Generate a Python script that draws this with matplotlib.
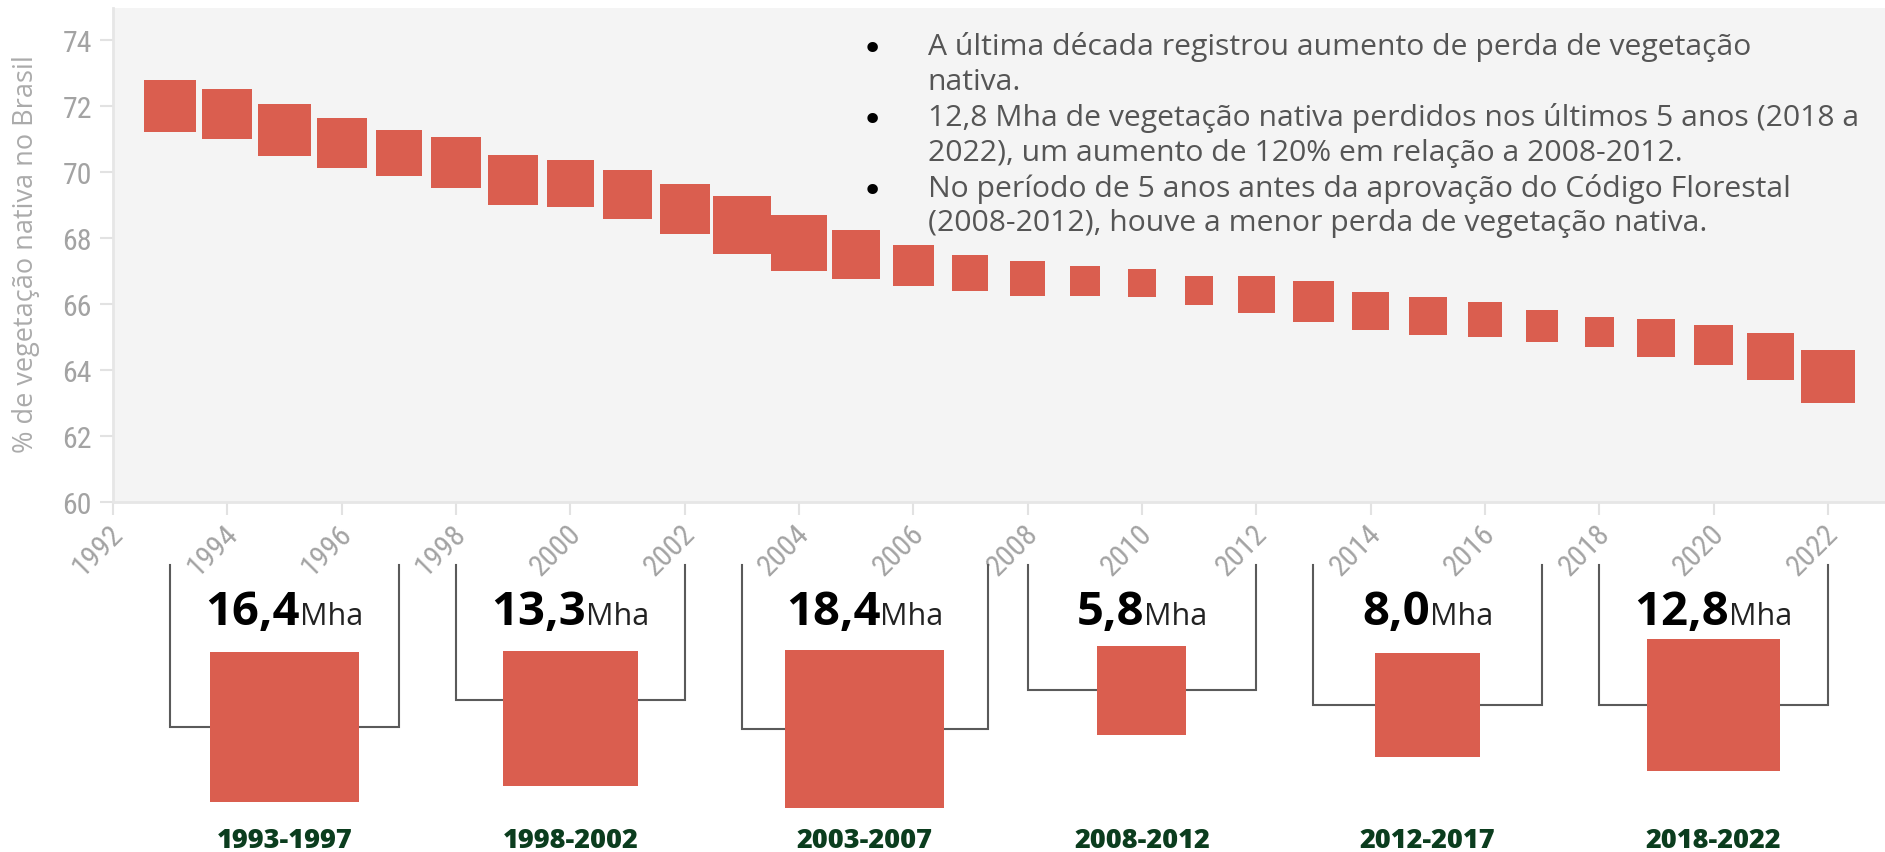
import numpy as np
import matplotlib
matplotlib.use("Agg")
import matplotlib.pyplot as plt
import matplotlib.transforms as mtransforms
from matplotlib import font_manager

#---------------------------------- data ----------------------------------------
years = list(range(1993, 2023))
# % of native vegetation in Brazil (centre of each square)
pct_native = [72.01, 71.76, 71.29, 70.90, 70.58, 70.29, 69.76, 69.65, 69.32, 68.87,
              68.39, 67.85, 67.49, 67.17, 66.95, 66.77, 66.70, 66.63, 66.41, 66.30,
              66.06, 65.79, 65.64, 65.52, 65.33, 65.15, 64.97, 64.75, 64.41, 63.80]
# annual loss (Mha), square area proportional to it
loss_mha = [3.50, 3.27, 3.58, 3.30, 2.82, 3.37, 3.25, 2.98, 3.22, 3.30,
            4.43, 4.26, 3.14, 2.18, 1.71, 1.68, 1.16, 1.00, 1.09, 1.80,
            2.22, 1.86, 1.87, 1.58, 1.40, 1.13, 1.92, 2.08, 2.95, 3.78]

periods = ["1993-1997", "1998-2002", "2003-2007", "2008-2012", "2012-2017", "2018-2022"]
period_loss = [16.4, 13.3, 18.4, 5.8, 8.0, 12.8]
period_loss_txt = ["16,4", "13,3", "18,4", "5,8", "8,0", "12,8"]

bullets = [
    ["A última década registrou aumento de perda de vegetação", "nativa."],
    ["12,8 Mha de vegetação nativa perdidos nos últimos 5 anos (2018 a",
     "2022), um aumento de 120% em relação a 2008-2012."],
    ["No período de 5 anos antes da aprovação do Código Florestal",
     "(2008-2012), houve a menor perda de vegetação nativa."],
]
ylabel = "% de vegetação nativa no Brasil"

#---------------------------------- style ---------------------------------------
RED = "#da5e4f"
GREEN = "#0b3d1e"
W, H = 1885, 853

names = {f.name for f in font_manager.fontManager.ttflist}
COND = next((n for n in ["Roboto Condensed", "Liberation Sans Narrow"] if n in names), "DejaVu Sans")
BODY = "Open Sans"

fig = plt.figure(figsize=(W / 100, H / 100), dpi=100)
renderer = fig.canvas.get_renderer()

# top panel
ax = fig.add_axes([113 / W, 1 - 502.6 / H, 1 - 113 / W, (502.6 - 8.5) / H])
ax.set_facecolor("#f4f4f4")
ax.set_xlim(1992, 2023)
ax.set_ylim(60, 75)
ax.scatter(years, pct_native, s=np.array(loss_mha) * 392.7, marker="s",
           color=RED, linewidths=0, zorder=3)

ax.set_xticks(range(1992, 2023, 2))
ax.set_yticks(range(60, 75, 2))
for s in ["top", "right"]:
    ax.spines[s].set_visible(False)
for s in ["left", "bottom"]:
    ax.spines[s].set_color("#e6e6e6")
    ax.spines[s].set_linewidth(2)
ax.tick_params(length=9.7, width=1.5, color="#e2e2e2", labelcolor="#a3a3a3",
               labelsize=21.5, pad=5.4)
for lab in ax.get_yticklabels() + ax.get_xticklabels():
    lab.set_family(COND)
offset = mtransforms.ScaledTranslation(0.06, -0.06, fig.dpi_scale_trans)
for lab in ax.get_xticklabels():
    lab.set_rotation(45)
    lab.set_ha("right")
    lab.set_va("center")
    lab.set_rotation_mode("anchor")
    lab.set_transform(lab.get_transform() + offset)

fig.text(26 / W, 1 - 254 / H, ylabel, rotation=90, ha="center", va="center",
         fontsize=19.5, color="#ababab", family=BODY)

# bullet text, size fitted to the widths of the original lines
probe1 = fig.text(0, 0, bullets[0][0], fontsize=20, family=BODY)
probe2 = fig.text(0, 0, bullets[1][0], fontsize=20, family=BODY)
body_size = min(20 * 866 / probe1.get_window_extent(renderer).width,
                20 * 929 / probe2.get_window_extent(renderer).width)
probe1.remove()
probe2.remove()

line_y = [47.3, 82.8, 118.3, 153.8, 189.3, 223.0]
k = 0
for item in bullets:
    fig.text(872 / W, 1 - (line_y[k] + 3) / H, "\u2022", ha="center", va="center",
             fontsize=26, color="black")
    for line in item:
        fig.text(927.7 / W, 1 - line_y[k] / H, line, ha="left", va="center",
                 fontsize=body_size, color="#555555", family=BODY)
        k += 1

# bottom panel: period totals
ppu = (W - 113) / 31.0  # pixels per year
ax2 = fig.add_axes([113 / W, 0, 1 - 113 / W, 313 / H])
ax2.set_xlim(1992, 2023)
ax2.set_ylim(0, 313 / ppu)
ax2.axis("off")

bracket_l = [1993, 1998, 2003, 2008, 2013, 2018]
bracket_r = [1997, 2002, 2007.3, 2012, 2017, 2022]
bracket_top = 5.02
bracket_bot = [2.19, 2.66, 2.15, 2.83, 2.58, 2.58]
square_y = [2.19, 2.33, 2.15, 2.83, 2.57, 2.57]
side_per_sqrt = 0.647

for i in range(len(periods)):
    l, r = bracket_l[i], bracket_r[i]
    mid = (l + r) / 2
    ax2.plot([l, l, r, r], [bracket_top, bracket_bot[i], bracket_bot[i], bracket_top],
             color="#5a5a5a", lw=1.5, solid_joinstyle="miter", zorder=1)
    side = side_per_sqrt * np.sqrt(period_loss[i])
    ax2.add_patch(plt.Rectangle((mid - side / 2, square_y[i] - side / 2), side, side,
                                color=RED, lw=0, zorder=2))
    t1 = ax2.text(mid, 3.99, period_loss_txt[i], ha="left", va="baseline",
                  fontsize=34, weight="bold", color="black", family=BODY)
    t2 = ax2.text(mid, 3.99, "Mha", ha="left", va="baseline",
                  fontsize=22, color="#222222", family=BODY)
    w1 = t1.get_window_extent(renderer).width / ppu
    w2 = t2.get_window_extent(renderer).width / ppu
    x0 = mid - (w1 + w2) / 2
    t1.set_x(x0)
    t2.set_x(x0 + w1)
    ax2.text(mid, 0.21, periods[i], ha="center", va="center", fontsize=19.5,
             weight="heavy", color=GREEN, family=BODY)

fig.savefig("out.png", dpi=100)
